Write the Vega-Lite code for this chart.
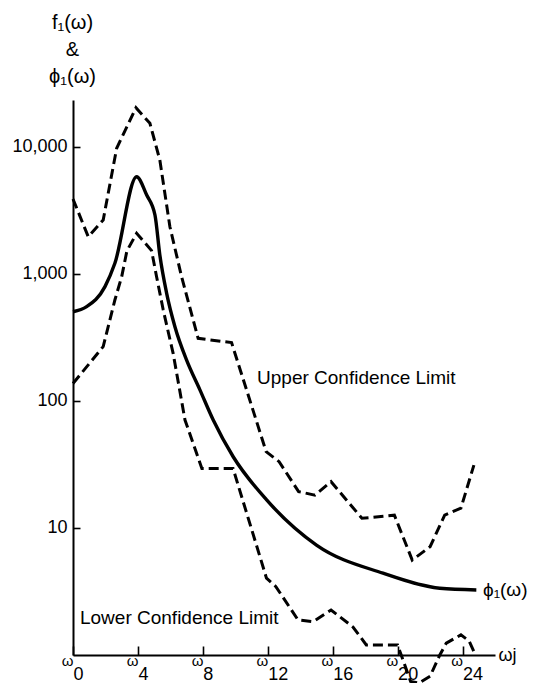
{
  "$schema": "https://vega.github.io/schema/vega-lite/v6.json",
  "width": 422,
  "height": 555,
  "autosize": {"type": "none"},
  "padding": {"left": 73, "top": 100, "right": 38, "bottom": 28},
  "background": "white",
  "config": {
    "view": {"stroke": null},
    "axis": {"grid": false, "domainColor": "black", "domainWidth": 2, "tickColor": "black", "tickWidth": 1.6, "labelColor": "black", "titleColor": "black", "labelFont": "Liberation Sans", "titleFont": "Liberation Sans", "titleFontWeight": "normal"},
    "text": {"font": "Liberation Sans"}
  },
  "datasets": {
    "curves": [
      {"s": "upper", "w": 0, "v": 3870},
      {"s": "upper", "w": 0.94, "v": 1955},
      {"s": "upper", "w": 1.86, "v": 2645},
      {"s": "upper", "w": 2.69, "v": 9700},
      {"s": "upper", "w": 3.88, "v": 20240},
      {"s": "upper", "w": 4.74, "v": 15250},
      {"s": "upper", "w": 5.35, "v": 7840},
      {"s": "upper", "w": 5.97, "v": 2343},
      {"s": "upper", "w": 6.69, "v": 947},
      {"s": "upper", "w": 7.71, "v": 310},
      {"s": "upper", "w": 9.77, "v": 287},
      {"s": "upper", "w": 11.9, "v": 39.8},
      {"s": "upper", "w": 12.7, "v": 33.2},
      {"s": "upper", "w": 13.9, "v": 19.3},
      {"s": "upper", "w": 14.9, "v": 18.1},
      {"s": "upper", "w": 15.9, "v": 23.1},
      {"s": "upper", "w": 17.8, "v": 11.9},
      {"s": "upper", "w": 19.8, "v": 12.6},
      {"s": "upper", "w": 20.9, "v": 5.59},
      {"s": "upper", "w": 22.0, "v": 7.11},
      {"s": "upper", "w": 22.9, "v": 12.6},
      {"s": "upper", "w": 23.9, "v": 14.3},
      {"s": "upper", "w": 24.7, "v": 31.2},
      {"s": "lower", "w": 0, "v": 137},
      {"s": "lower", "w": 1.86, "v": 267},
      {"s": "lower", "w": 2.58, "v": 621},
      {"s": "lower", "w": 3.0, "v": 947},
      {"s": "lower", "w": 3.32, "v": 1510},
      {"s": "lower", "w": 3.92, "v": 2080},
      {"s": "lower", "w": 4.84, "v": 1520},
      {"s": "lower", "w": 5.15, "v": 947},
      {"s": "lower", "w": 5.56, "v": 518},
      {"s": "lower", "w": 6.17, "v": 236},
      {"s": "lower", "w": 6.9, "v": 70.6},
      {"s": "lower", "w": 7.94, "v": 29.4},
      {"s": "lower", "w": 9.86, "v": 29.4},
      {"s": "lower", "w": 11.92, "v": 4.03},
      {"s": "lower", "w": 12.5, "v": 3.45},
      {"s": "lower", "w": 13.86, "v": 1.89},
      {"s": "lower", "w": 14.8, "v": 1.83},
      {"s": "lower", "w": 15.9, "v": 2.26},
      {"s": "lower", "w": 17.25, "v": 1.66},
      {"s": "lower", "w": 18.07, "v": 1.2},
      {"s": "lower", "w": 20.0, "v": 1.2},
      {"s": "lower", "w": 20.8, "v": 0.62},
      {"s": "lower", "w": 21.3, "v": 0.6},
      {"s": "lower", "w": 22.0, "v": 0.68},
      {"s": "lower", "w": 22.6, "v": 1.0},
      {"s": "lower", "w": 23.0, "v": 1.24},
      {"s": "lower", "w": 23.9, "v": 1.44},
      {"s": "lower", "w": 24.4, "v": 1.29},
      {"s": "lower", "w": 24.8, "v": 1.0},
      {"s": "phi", "w": 0, "v": 502},
      {"s": "phi", "w": 0.84, "v": 550},
      {"s": "phi", "w": 1.97, "v": 791},
      {"s": "phi", "w": 2.58, "v": 1208},
      {"s": "phi", "w": 3.92, "v": 5800},
      {"s": "phi", "w": 4.54, "v": 4160},
      {"s": "phi", "w": 5.05, "v": 2897},
      {"s": "phi", "w": 5.35, "v": 1403},
      {"s": "phi", "w": 5.77, "v": 701},
      {"s": "phi", "w": 6.28, "v": 383},
      {"s": "phi", "w": 7.0, "v": 209},
      {"s": "phi", "w": 7.82, "v": 122},
      {"s": "phi", "w": 8.64, "v": 70.6},
      {"s": "phi", "w": 9.87, "v": 36.3},
      {"s": "phi", "w": 11.93, "v": 16.6},
      {"s": "phi", "w": 15.0, "v": 7.33},
      {"s": "phi", "w": 19.1, "v": 4.4},
      {"s": "phi", "w": 22.6, "v": 3.35},
      {"s": "phi", "w": 24.85, "v": 3.25}
    ],
    "notes": [
      {"t": "Upper Confidence Limit", "w": 11.34, "v": 152},
      {"t": "Lower Confidence Limit", "w": 0.43, "v": 1.95},
      {"t": "ϕ₁(ω)", "w": 25.26, "v": 3.25}
    ]
  },
  "layer": [
    {
      "data": {"name": "curves"},
      "transform": [{"filter": "datum.s === 'upper'"}],
      "mark": {"type": "line", "color": "black", "strokeWidth": 3, "strokeDash": [10, 5], "clip": false},
      "encoding": {
        "x": {"field": "w", "type": "quantitative", "scale": {"domain": [0, 26], "nice": false, "zero": false},
          "axis": {"orient": "bottom", "values": [0, 4, 8, 12, 16, 20, 24], "labelExpr": "'' + datum.value", "tickSize": -9, "labelAlign": "left", "labelBaseline": "alphabetic", "labelPadding": 33, "labelFontSize": 18, "labelFlush": false, "labelOverlap": false,
            "title": "ωj", "titleX": 425, "titleY": 0, "titleAlign": "left", "titleBaseline": "middle", "titleFontSize": 18, "titleAnchor": null}},
        "y": {"field": "v", "type": "quantitative", "scale": {"type": "log", "domain": [1, 23270], "nice": false},
          "axis": {"values": [10, 100, 1000, 10000], "labelExpr": "format(datum.value, ',')", "tickSize": -7, "labelPadding": 13, "labelFontSize": 18, "labelBaseline": "middle", "labelFlush": false, "labelOverlap": false,
            "title": ["f₁(ω)", "&", "ϕ₁(ω)"], "titleAngle": 0, "titleX": -1, "titleY": -88, "titleAlign": "center", "titleBaseline": "top", "titleFontSize": 20, "titleLineHeight": 27}}
      }
    },
    {
      "data": {"name": "curves"},
      "transform": [{"filter": "datum.s === 'lower'"}],
      "mark": {"type": "line", "color": "black", "strokeWidth": 3, "strokeDash": [10, 5], "clip": false},
      "encoding": {
        "x": {"field": "w", "type": "quantitative",
          "axis": {"orient": "bottom", "values": [0, 4, 8, 12, 16, 20, 24], "labelExpr": "'ω'", "ticks": false, "domain": false, "labelAlign": "right", "labelBaseline": "alphabetic", "labelPadding": 10, "labelFontSize": 15, "labelFlush": false, "labelOverlap": false, "title": null}},
        "y": {"field": "v", "type": "quantitative"}
      }
    },
    {
      "data": {"name": "curves"},
      "transform": [{"filter": "datum.s === 'phi'"}],
      "mark": {"type": "line", "color": "black", "strokeWidth": 3.4, "interpolate": "monotone", "clip": false},
      "encoding": {
        "x": {"field": "w", "type": "quantitative", "axis": null},
        "y": {"field": "v", "type": "quantitative"}
      }
    },
    {
      "data": {"name": "notes"},
      "mark": {"type": "text", "align": "left", "baseline": "middle", "fontSize": 19, "color": "black"},
      "encoding": {
        "x": {"field": "w", "type": "quantitative", "axis": null},
        "y": {"field": "v", "type": "quantitative"},
        "text": {"field": "t"}
      }
    }
  ],
  "resolve": {"axis": {"x": "independent"}}
}
